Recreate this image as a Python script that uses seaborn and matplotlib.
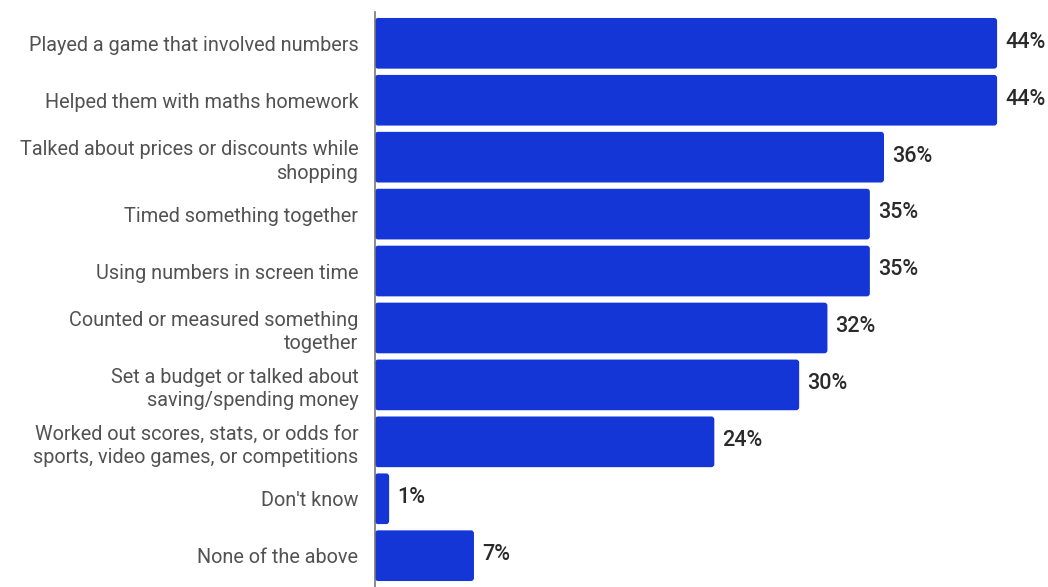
import matplotlib
matplotlib.use("Agg")
import matplotlib.pyplot as plt
from matplotlib.patches import FancyBboxPatch
import seaborn as sns
import pandas as pd

categories = [
    "Played a game that involved numbers",
    "Helped them with maths homework",
    "Talked about prices or discounts while\nshopping",
    "Timed something together",
    "Using numbers in screen time",
    "Counted or measured something\ntogether",
    "Set a budget or talked about\nsaving/spending money",
    "Worked out scores, stats, or odds for\nsports, video games, or competitions",
    "Don't know",
    "None of the above",
]
values = [44, 44, 36, 35, 35, 32, 30, 24, 1, 7]

df = pd.DataFrame({"activity": categories, "pct": values})

sns.set_theme(style="white")
plt.rcParams["font.family"] = ["Roboto", "DejaVu Sans"]

W, H = 1048, 587
fig = plt.figure(figsize=(W / 100, H / 100), dpi=100)
ax = fig.add_axes([375 / W, 0, (W - 375) / W, (H - 12) / H])

bar_color = "#1536d6"
sns.barplot(data=df, x="pct", y="activity", orient="h", color=bar_color,
            width=0.89, saturation=1, ax=ax)

ax.set_xlim(0, 47.6)
ax.set_ylim(9.55, -0.55)

# swap plain rectangles for slightly rounded ones
fig.canvas.draw()
px_x = 47.6 / ax.bbox.width
px_y = 10.1 / ax.bbox.height
for p in list(ax.patches):
    x, y = p.get_x(), p.get_y()
    w, h = p.get_width(), p.get_height()
    rb = FancyBboxPatch((x, y), w, h,
                        boxstyle=f"round,pad=0,rounding_size={3 * px_x}",
                        mutation_aspect=px_y / px_x,
                        facecolor=bar_color, edgecolor="none", zorder=2)
    p.remove()
    ax.add_patch(rb)

for i, v in enumerate(values):
    ax.text(v + 8 * px_x, i - 0.02, f"{v}%", va="center", ha="left",
            fontsize=15.5, fontweight="medium", color="#2a2a2a")

ax.set_xlabel("")
ax.set_ylabel("")
ax.set_xticks([])
ax.tick_params(axis="y", length=0, pad=12, labelsize=14.3, labelcolor="#525252")
for lbl in ax.get_yticklabels():
    lbl.set_horizontalalignment("right")
    lbl.set_multialignment("right")
    lbl.set_linespacing(1.3)

for s in ["top", "right", "bottom"]:
    ax.spines[s].set_visible(False)
ax.spines["left"].set_color("#777777")
ax.spines["left"].set_linewidth(1.2)
ax.spines["left"].set_zorder(3)

fig.savefig("out.png", dpi=100, facecolor="white")
